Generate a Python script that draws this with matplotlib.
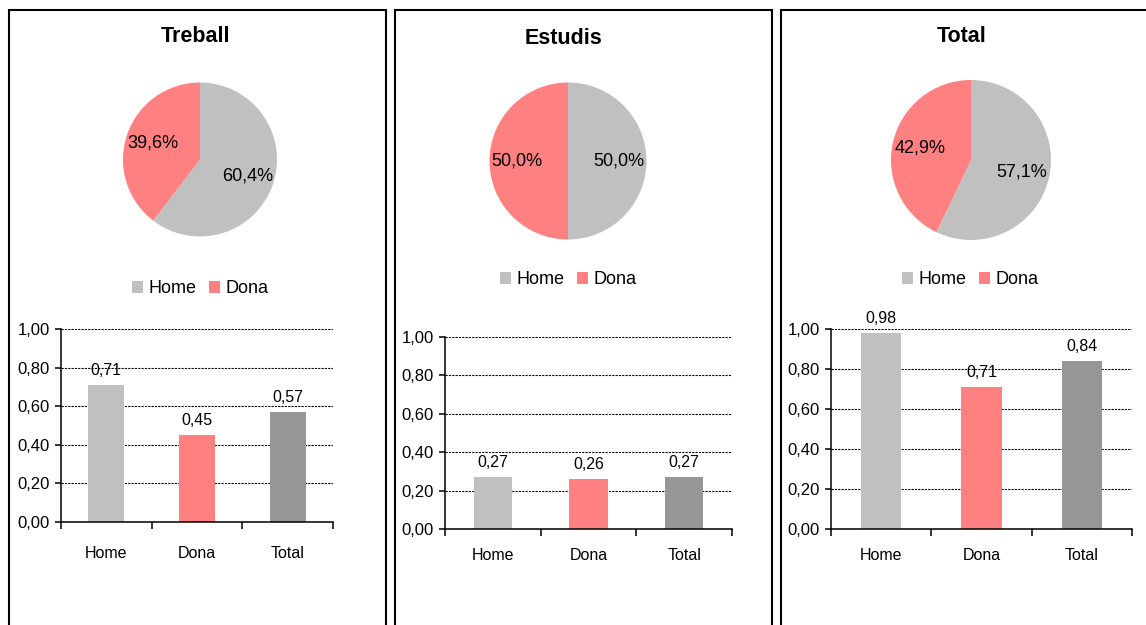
import matplotlib
matplotlib.use("Agg")
import matplotlib.pyplot as plt
from matplotlib.patches import Patch, Rectangle
from matplotlib.ticker import FixedLocator, FuncFormatter

plt.rcParams['font.family'] = ['Liberation Sans', 'DejaVu Sans']

W, H = 1146, 625

titles = ["Treball", "Estudis", "Total"]
pie_labels = ["Home", "Dona"]
pie_shares = [
    [60.4, 39.6],
    [50.0, 50.0],
    [57.1, 42.9],
]
bar_cats = ["Home", "Dona", "Total"]
bar_values = [
    [0.71, 0.45, 0.57],
    [0.27, 0.26, 0.27],
    [0.98, 0.71, 0.84],
]

home_col = "#C0C0C0"
dona_col = "#FF8080"
total_col = "#969696"

# layout in pixels: panel frames, pie centres/radii, legend centres, bar plot boxes
frames = [(9, 386), (395, 772), (781, 1160)]
title_pos = [(195, 37), (563, 39), (962, 37)]
pie_geom = [(200, 159.5, 77), (568, 161, 78.5), (971, 160, 80)]
legend_pos = [(200, 289), (568, 280), (970, 280)]
bar_boxes = [(61, 329, 333, 522), (445, 337, 732, 529), (831, 329, 1132, 529)]
cat_pad = [17, 13.5, 13.5]


def fx(px):
    return px / W


def fy(py):
    return 1 - py / H


def comma(v, pos=None):
    return f"{v:.2f}".replace(".", ",")


fig = plt.figure(figsize=(W / 100, H / 100), dpi=100)

for i in range(3):
    # panel frame
    x0, x1 = frames[i]
    fig.add_artist(Rectangle((fx(x0), -0.05), fx(x1) - fx(x0), fy(10) + 0.05,
                             transform=fig.transFigure, fill=False,
                             edgecolor="black", linewidth=1.5))

    tx, ty = title_pos[i]
    fig.text(fx(tx), fy(ty), titles[i], ha="center", va="center",
             fontsize=15.5, fontweight="bold")

    # pie
    cx, cy, r = pie_geom[i]
    pax = fig.add_axes([fx(cx - r), fy(cy + r), 2 * r / W, 2 * r / H])
    pax.pie(pie_shares[i], colors=[home_col, dona_col], startangle=90,
            counterclock=False, radius=1, pctdistance=0.65,
            autopct=lambda p: f"{p:.1f}%".replace(".", ","),
            textprops={"fontsize": 13, "color": "black"})
    pax.set_xlim(-1, 1)
    pax.set_ylim(-1, 1)
    pax.set_aspect("auto")

    lx, ly = legend_pos[i]
    handles = [Patch(facecolor=home_col, edgecolor="none"),
               Patch(facecolor=dona_col, edgecolor="none")]
    fig.legend(handles, pie_labels, loc="center", bbox_to_anchor=(fx(lx), fy(ly)),
               ncol=2, frameon=False, fontsize=13, handlelength=0.6,
               handleheight=0.6, handletextpad=0.3, columnspacing=0.7,
               borderpad=0, borderaxespad=0)

    # bars
    bl, bt, br, bb = bar_boxes[i]
    bax = fig.add_axes([fx(bl), fy(bb), (br - bl) / W, (bb - bt) / H])
    xs = range(len(bar_cats))
    bars = bax.bar(xs, bar_values[i], width=0.4,
                   color=[home_col, dona_col, total_col], zorder=2)
    for rect, v in zip(bars, bar_values[i]):
        bax.annotate(comma(v), (rect.get_x() + rect.get_width() / 2, v),
                     xytext=(0, 7), textcoords="offset points",
                     ha="center", va="baseline", fontsize=11.5)
    bax.set_xlim(-0.5, 2.5)
    bax.set_ylim(0, 1)
    bax.set_yticks([0, 0.2, 0.4, 0.6, 0.8, 1.0])
    bax.yaxis.set_major_formatter(FuncFormatter(comma))
    bax.yaxis.grid(True, linestyle=(0, (2, 1)), color="black", linewidth=0.8, zorder=0)
    bax.set_axisbelow(True)
    bax.set_xticks(list(xs))
    bax.set_xticklabels(bar_cats, fontsize=11.5)
    bax.xaxis.set_minor_locator(FixedLocator([-0.5, 0.5, 1.5, 2.5]))
    bax.tick_params(axis="x", which="major", length=0, pad=cat_pad[i])
    bax.tick_params(axis="x", which="minor", length=5, width=1.1, direction="out")
    bax.tick_params(axis="y", length=4, width=1.1, labelsize=12, pad=4)
    for s in ("top", "right"):
        bax.spines[s].set_visible(False)
    for s in ("left", "bottom"):
        bax.spines[s].set_linewidth(1.1)

fig.savefig("out.png", dpi=100, facecolor="white")
